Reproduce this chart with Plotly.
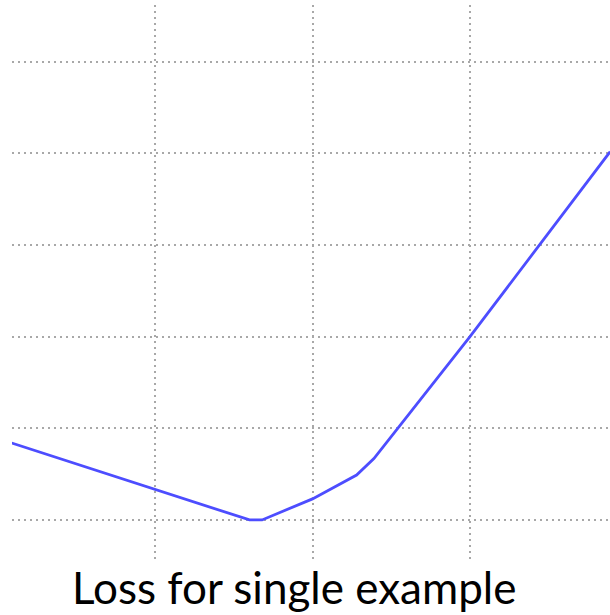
import plotly.graph_objects as go

# Data (arbitrary units)
weight = [0.09, 1.00, 1.60, 1.68, 2.00, 2.28, 2.39, 3.00, 3.89]
loss = [0.84, 0.33, 0.00, 0.00, 0.23, 0.49, 0.67, 2.00, 4.02]

x_ticks = [1, 2, 3]
y_ticks = [0, 1, 2, 3, 4, 5]
title_text = "Loss for single example"

fig = go.Figure()
fig.add_trace(go.Scatter(
    x=weight, y=loss, mode="lines",
    line=dict(color="#4d4dff", width=2.8),
    hoverinfo="skip", showlegend=False,
))

axis_common = dict(
    showgrid=True, gridcolor="#a8a8a8", gridwidth=2, griddash="2px,4px",
    zeroline=False, showline=False, showticklabels=False, ticks="",
    fixedrange=True,
)
fig.update_xaxes(range=[0.092, 3.889], tickmode="array", tickvals=x_ticks, **axis_common)
fig.update_yaxes(range=[-0.459, 5.62], tickmode="array", tickvals=y_ticks, **axis_common)

fig.add_annotation(
    text=title_text, xref="paper", yref="paper",
    x=0.4716, y=-0.0449, xanchor="center", yanchor="middle",
    showarrow=False, font=dict(family="Lato", size=44, color="#000000"),
)

fig.update_layout(
    width=610, height=615,
    margin=dict(l=12, r=0, t=5, b=53),
    paper_bgcolor="white", plot_bgcolor="white",
)

fig.write_html(
    "out.html",
    config={"displayModeBar": False},
    post_script="document.body.style.margin='0px';document.body.style.overflow='hidden';",
)
